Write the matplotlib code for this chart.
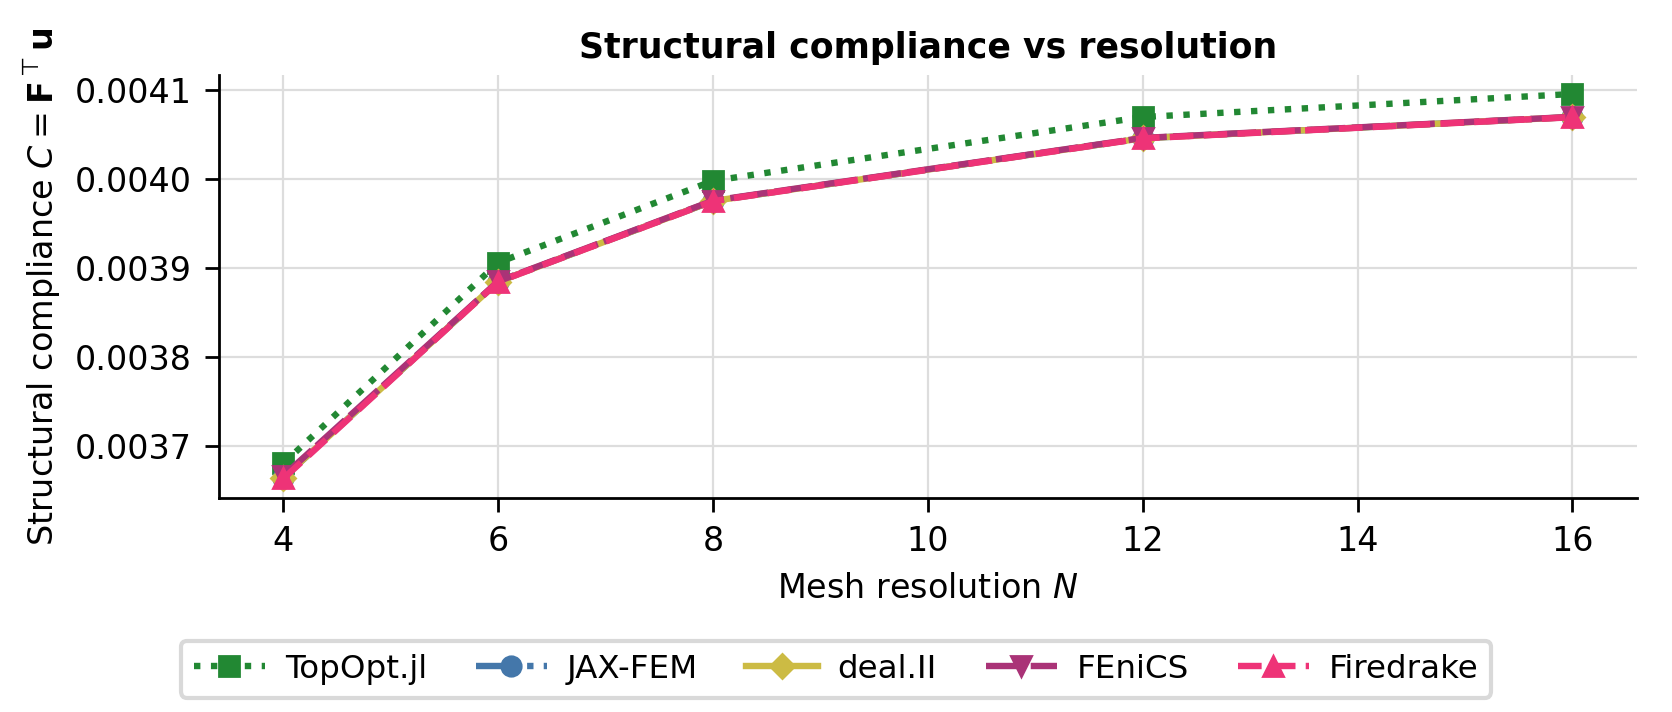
import matplotlib
matplotlib.use("Agg")
import matplotlib.pyplot as plt

N = [4, 6, 8, 12, 16]
topopt = [0.003681, 0.0039066, 0.0039985, 0.0040701, 0.004096]
jaxfem = [0.003665, 0.0038852, 0.0039758, 0.0040463, 0.0040701]
dealii = [0.003665, 0.0038852, 0.0039758, 0.0040463, 0.0040701]
fenics = [0.003667, 0.0038856, 0.0039762, 0.0040466, 0.0040703]
firedrake = [0.003664, 0.0038850, 0.0039756, 0.0040461, 0.0040699]

labels = ["TopOpt.jl", "JAX-FEM", "deal.II", "FEniCS", "Firedrake"]
series = [topopt, jaxfem, dealii, fenics, firedrake]
colors = ["#228833", "#4477AA", "#CCBB44", "#AA3377", "#EE3377"]
markers = ["s", "o", "D", "v", "^"]
styles = [":", "-.", "-", (0, (6, 1)), "--"]

plt.rcParams["font.family"] = "DejaVu Sans"
fig = plt.figure(figsize=(8.36, 3.56), dpi=200)
ax = fig.add_axes([0.131, 0.301, 0.848, 0.594])

for y, lab, c, m, ls in zip(series, labels, colors, markers, styles):
    ax.plot(N, y, linestyle=ls, color=c, marker=m, markersize=7 if m != "D" else 6,
            linewidth=2.3, label=lab)

ax.set_xticks([4, 6, 8, 10, 12, 14, 16])
ax.set_yticks([0.0037, 0.0038, 0.0039, 0.0040, 0.0041])
ax.set_yticklabels(["0.0037", "0.0038", "0.0039", "0.0040", "0.0041"])
ax.tick_params(labelsize=12, width=1.0, length=5, pad=5)
ax.grid(True, color="#dddddd", linewidth=0.8)
ax.set_axisbelow(True)
for s in ["top", "right"]:
    ax.spines[s].set_visible(False)
for s in ["left", "bottom"]:
    ax.spines[s].set_linewidth(1.0)

ax.set_xlabel("Mesh resolution $N$", fontsize=12, labelpad=5)
ax.set_ylabel(r"Structural compliance $C = \mathbf{F}^\top\mathbf{u}$", fontsize=12)
ax.set_title("Structural compliance vs resolution", fontsize=12.5, fontweight="bold")

leg = fig.legend(loc="center", bbox_to_anchor=(0.5, 0.06), ncol=5, fontsize=11.7,
                 frameon=True, fancybox=True, edgecolor="#d9d9d9", framealpha=1,
                 handlelength=2.2, handletextpad=0.6, columnspacing=1.5)
leg.get_frame().set_linewidth(1.5)

fig.savefig("out.png", dpi=200)
